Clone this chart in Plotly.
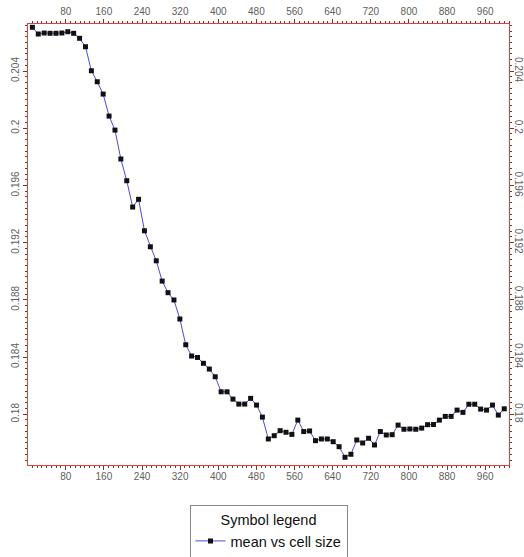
import plotly.graph_objects as go

cell_size = [10, 22.4, 34.8, 47.1, 59.5, 71.9, 84.3, 96.6, 109, 121.4, 133.8, 146.1, 158.5, 170.9,
             183.3, 195.6, 208, 220.4, 232.8, 245.1, 257.5, 269.9, 282.3, 294.6, 307, 319.4, 331.8,
             344.1, 356.5, 368.9, 381.3, 393.6, 406, 418.4, 430.8, 443.1, 455.5, 467.9, 480.3, 492.6,
             505, 517.4, 529.8, 542.1, 554.5, 566.9, 579.3, 591.6, 604, 616.4, 628.8, 641.1, 653.5,
             665.9, 678.3, 690.6, 703, 715.4, 727.8, 740.1, 752.5, 764.9, 777.3, 789.6, 802, 814.4,
             826.8, 839.1, 851.5, 863.9, 876.3, 888.6, 901, 913.4, 925.8, 938.1, 950.5, 962.9, 975.3,
             987.6, 1000]
mean_vals = [0.20706, 0.20659, 0.20666, 0.20664, 0.20664, 0.20666, 0.20675, 0.20664, 0.20629, 0.2057,
             0.20402, 0.20325, 0.20239, 0.20085, 0.19987, 0.19785, 0.19633, 0.19449, 0.19503, 0.19283,
             0.19171, 0.19073, 0.18931, 0.1885, 0.18799, 0.18666, 0.18486, 0.18407, 0.18397, 0.18356,
             0.18316, 0.18262, 0.18157, 0.18157, 0.18106, 0.18071, 0.18071, 0.18111, 0.18064, 0.1798,
             0.17827, 0.1785, 0.17885, 0.17874, 0.17859, 0.17959, 0.17879, 0.17883, 0.17815, 0.17827,
             0.17827, 0.17808, 0.17773, 0.17699, 0.1772, 0.1782, 0.17799, 0.17832, 0.17785, 0.17879,
             0.17855, 0.17857, 0.17924, 0.17895, 0.17897, 0.17895, 0.17903, 0.17927, 0.17928, 0.17959,
             0.17985, 0.17985, 0.18029, 0.18013, 0.1807, 0.1807, 0.18036, 0.18029, 0.18064, 0.17994,
             0.18038]

series_name = "mean vs cell size"
legend_title = "Symbol legend"

X_RANGE = [0.8, 1010]
Y_RANGE = [0.17645, 0.20729]

fig = go.Figure()
fig.add_trace(go.Scatter(
    x=cell_size, y=mean_vals, mode="lines+markers", name=series_name,
    line=dict(color="#4b4bdc", width=1),
    marker=dict(symbol="square", size=5, color="#111111"),
))
# invisible copy to draw mirrored top / right axes with labels
fig.add_trace(go.Scatter(
    x=cell_size, y=mean_vals, mode="lines", xaxis="x2", yaxis="y2",
    line=dict(width=0), opacity=0, showlegend=False, hoverinfo="skip",
))

tick_font = dict(family="Liberation Sans, Arial", size=10, color="#606060")
axis_common = dict(showline=True, linecolor="#e04040", linewidth=1, showgrid=False,
                   zeroline=False, ticks="outside", ticklen=4, tickcolor="#803030",
                   tickfont=tick_font, automargin=False)

fig.update_layout(
    width=524, height=557,
    margin=dict(l=28, r=15, t=24, b=92, autoexpand=False),
    paper_bgcolor="white", plot_bgcolor="white",
    xaxis=dict(range=X_RANGE, dtick=80, tick0=0, side="bottom", ticklabelstandoff=-2,
               minor=dict(dtick=10, ticklen=2, tickcolor="#803030", ticks="outside"),
               **axis_common),
    yaxis=dict(range=Y_RANGE, dtick=0.004, tick0=0.18, tickangle=-90, side="left",
               minor=dict(dtick=0.0004, ticklen=2, tickcolor="#803030", ticks="outside"),
               **axis_common),
    xaxis2=dict(range=X_RANGE, dtick=80, tick0=0, side="top", overlaying="x", anchor="y",
                minor=dict(dtick=10, ticklen=2, tickcolor="#803030", ticks="outside"),
                **axis_common),
    yaxis2=dict(range=Y_RANGE, dtick=0.004, tick0=0.18, tickangle=90, side="right",
                overlaying="y", anchor="x", ticklabelstandoff=-3,
                minor=dict(dtick=0.0004, ticklen=2, tickcolor="#803030", ticks="outside"),
                **axis_common),
    showlegend=True,
    legend=dict(
        x=0.5, xanchor="center", y=-0.091, yanchor="top",
        bordercolor="#888888", borderwidth=1, bgcolor="white",
        font=dict(family="Liberation Sans, Arial", size=14.5, color="#111111"),
        title=dict(text=legend_title, side="top center",
                   font=dict(family="Liberation Sans, Arial", size=14.5, color="#111111")),
        itemwidth=30,
    ),
)

fig.write_html(
    "out.html",
    config={"displayModeBar": False},
    post_script="document.body.style.margin='0';document.body.style.padding='0';"
                "document.body.style.overflow='hidden';",
)
